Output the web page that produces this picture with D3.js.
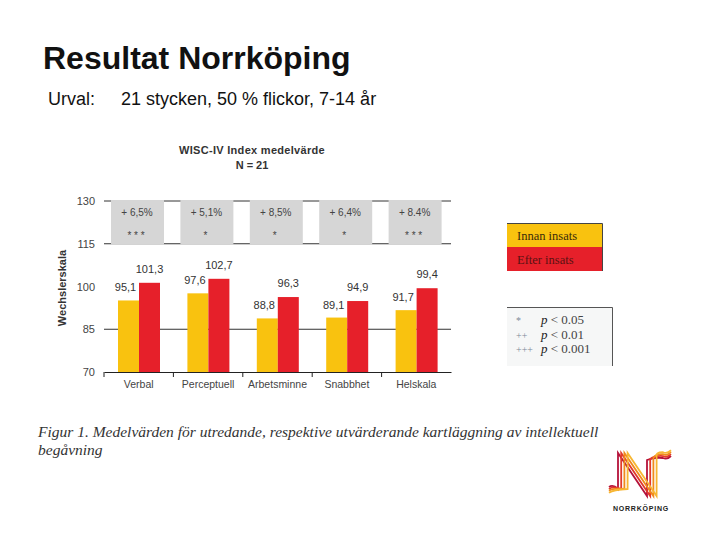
<!DOCTYPE html>
<html>
<head>
<meta charset="utf-8">
<script src="https://cdn.jsdelivr.net/npm/d3@7"></script>
<style>
  body { margin: 0; background: #fff; }
</style>
</head>
<body>
<div id="chart"></div>
<script>
// data
var categories = ['Verbal', 'Perceptuell', 'Arbetsminne', 'Snabbhet', 'Helskala'];
var innan = [95.1, 97.6, 88.8, 89.1, 91.7];
var efter = [101.3, 102.7, 96.3, 94.9, 99.4];
var change = ['+ 6,5%', '+ 5,1%', '+ 8,5%', '+ 6,4%', '+ 8.4%'];
var stars = ['* * *', '*', '*', '*', '* * *'];
var yTicks = [70, 85, 100, 115, 130];
var gridValues = [85, 115, 130];
var seriesNames = ['Innan insats', 'Efter insats'];
var pRows = [['*', '0.05'], ['++', '0.01'], ['+++', '0.001']];

var svgWidth = 720;
var svgHeight = 540;
var yellow = '#f9c20f';
var red = '#e6202a';
var sans = '"Liberation Sans", Arial, sans-serif';
var serif = '"Liberation Serif", "Times New Roman", serif';

var svg = d3.select('#chart').append('svg')
    .attr('width', svgWidth)
    .attr('height', svgHeight)
    .style('font-family', sans);

// slide heading
svg.append('text')
    .attr('x', 43).attr('y', 69)
    .attr('font-size', '32px').attr('font-weight', 'bold')
    .attr('fill', '#111')
    .text('Resultat Norrköping');

svg.append('text')
    .attr('x', 48).attr('y', 105)
    .attr('font-size', '18px').attr('fill', '#111')
    .text('Urval:');
svg.append('text')
    .attr('x', 121).attr('y', 105)
    .attr('font-size', '18px').attr('fill', '#111')
    .text('21 stycken, 50 % flickor, 7-14 år');

// chart title
svg.append('text')
    .attr('x', 252).attr('y', 154)
    .attr('text-anchor', 'middle')
    .attr('font-size', '11px').attr('font-weight', 'bold').attr('fill', '#333')
    .attr('letter-spacing', '0.3px')
    .text('WISC-IV Index medelvärde');
svg.append('text')
    .attr('x', 252).attr('y', 169)
    .attr('text-anchor', 'middle')
    .attr('font-size', '11px').attr('font-weight', 'bold').attr('fill', '#333')
    .text('N = 21');

// scales
var xScale = d3.scaleBand()
    .domain(categories)
    .range([104, 451]);

var xSub = d3.scaleBand()
    .domain([0, 1])
    .range([14, 56]);

var yScale = d3.scaleLinear()
    .domain([70, 130])
    .range([372, 201]);

var chartGroup = svg.append('g');

// grid lines
chartGroup.selectAll('.grid')
    .data(gridValues)
    .enter()
    .append('line')
    .attr('x1', 104).attr('x2', 451)
    .attr('y1', d => yScale(d)).attr('y2', d => yScale(d))
    .attr('stroke', '#333').attr('stroke-width', 1);

// grey boxes for the change rows (over the 130/115 lines)
chartGroup.selectAll('.box')
    .data(categories)
    .enter()
    .append('rect')
    .attr('x', d => xScale(d) + 7)
    .attr('y', yScale(130) - 1)
    .attr('width', 53)
    .attr('height', yScale(115) - yScale(130) + 2)
    .attr('fill', '#d6d6d6');

chartGroup.selectAll('.change')
    .data(categories)
    .enter()
    .append('text')
    .attr('x', d => xScale(d) + 33)
    .attr('y', 216)
    .attr('text-anchor', 'middle')
    .attr('font-size', '10px').attr('fill', '#444')
    .text((d, i) => change[i]);

chartGroup.selectAll('.stars')
    .data(categories)
    .enter()
    .append('text')
    .attr('x', d => xScale(d) + 32)
    .attr('y', 239)
    .attr('text-anchor', 'middle')
    .attr('font-size', '10px').attr('fill', '#444')
    .text((d, i) => stars[i]);

// bars
var series = [innan, efter];
var colors = [yellow, red];
series.forEach(function(values, s) {
    chartGroup.selectAll('.bar' + s)
        .data(categories)
        .enter()
        .append('rect')
        .attr('x', d => xScale(d) + xSub(s))
        .attr('y', (d, i) => yScale(values[i]))
        .attr('width', xSub.bandwidth())
        .attr('height', (d, i) => yScale(70) - yScale(values[i]))
        .attr('fill', colors[s]);

    chartGroup.selectAll('.val' + s)
        .data(categories)
        .enter()
        .append('text')
        .attr('x', d => xScale(d) + xSub(s) + xSub.bandwidth() / 2 + (s === 0 ? -3 : 0))
        .attr('y', (d, i) => yScale(values[i]) - (s === 0 ? 9 : 10))
        .attr('text-anchor', 'middle')
        .attr('font-size', '11px').attr('fill', '#333')
        .text((d, i) => values[i].toFixed(1).replace('.', ','));
});

// y axis labels
var leftAxis = d3.axisLeft(yScale).tickValues(yTicks).tickSize(0).tickPadding(0);
var yAxis = chartGroup.append('g')
    .attr('transform', 'translate(95, 0)')
    .call(leftAxis);
yAxis.select('.domain').remove();
yAxis.selectAll('text')
    .attr('font-family', sans)
    .attr('font-size', '11px').attr('fill', '#444');

// bottom axis
var bottomAxis = d3.axisBottom(xScale).tickSize(0).tickPadding(9);
var xAxis = chartGroup.append('g')
    .attr('transform', `translate(0, ${yScale(70)})`)
    .call(bottomAxis);
xAxis.select('.domain').attr('stroke', '#222');
xAxis.selectAll('text')
    .attr('font-family', sans)
    .attr('font-size', '10.5px').attr('fill', '#444');

chartGroup.selectAll('.btick')
    .data(categories)
    .enter()
    .append('line')
    .attr('x1', d => xScale(d)).attr('x2', d => xScale(d))
    .attr('y1', yScale(70)).attr('y2', yScale(70) + 5)
    .attr('stroke', '#222');

svg.append('text')
    .attr('transform', 'translate(66, 288) rotate(-90)')
    .attr('text-anchor', 'middle')
    .attr('font-size', '11px').attr('font-weight', 'bold').attr('fill', '#333')
    .text('Wechslerskala');

// legend
var legend = svg.append('g');
legend.selectAll('rect')
    .data(seriesNames)
    .enter()
    .append('rect')
    .attr('x', 507).attr('y', (d, i) => 223 + i * 24)
    .attr('width', 95).attr('height', 24)
    .attr('fill', (d, i) => colors[i]);
legend.append('path')
    .attr('d', 'M507,223.5 H602.5 V271')
    .attr('fill', 'none').attr('stroke', '#444');
legend.selectAll('text')
    .data(seriesNames)
    .enter()
    .append('text')
    .attr('x', 517).attr('y', (d, i) => 240 + i * 24)
    .style('font-family', serif)
    .attr('font-size', '12.5px')
    .attr('fill', (d, i) => i === 0 ? '#3a2a0a' : '#5a1212')
    .text(d => d);

var pLegend = svg.append('g');
pLegend.append('rect')
    .attr('x', 507).attr('y', 307)
    .attr('width', 106).attr('height', 59)
    .attr('fill', '#f6f7f7');
pLegend.append('path')
    .attr('d', 'M507,307.5 H612.5 V366')
    .attr('fill', 'none').attr('stroke', '#555');
pRows.forEach(function(r, i) {
    var t = pLegend.append('text')
        .attr('y', 324 + i * 14.5)
        .style('font-family', serif)
        .attr('font-size', '13px');
    t.append('tspan').attr('x', 516).attr('fill', '#7d8a99').attr('font-size', '10px').text(r[0]);
    t.append('tspan').attr('x', 541).attr('fill', '#222').attr('font-style', 'italic').text('p');
    t.append('tspan').attr('fill', '#444').text(' < ' + r[1]);
});

// caption
var caption = svg.append('text')
    .style('font-family', serif)
    .attr('font-style', 'italic')
    .attr('font-size', '15.5px').attr('fill', '#333');
caption.append('tspan').attr('x', 38).attr('y', 437)
    .text('Figur 1. Medelvärden för utredande, respektive utvärderande kartläggning av intellektuell');
caption.append('tspan').attr('x', 38).attr('y', 455)
    .text('begåvning');

// logo
var logo = svg.append('g');
var logoColors = ['#b5123a', '#e23a2a', '#f08a1c', '#f7b733'];
logoColors.forEach(function(c, i) {
    var o = i * 3.2;
    var p = d3.path();
    p.moveTo(609, 487 + o * 0.6);
    p.quadraticCurveTo(613, 484 + o * 0.6, 618 + o, 489);
    p.lineTo(618 + o, 453);
    p.lineTo(647 + o, 496);
    p.lineTo(647 + o, 460 - o * 0.3);
    p.quadraticCurveTo(655, 455 - o * 0.5 + 2, 663, 458 - o * 0.6);
    p.quadraticCurveTo(667, 460 - o * 0.6, 671, 456 - o * 0.6);
    logo.append('path')
        .attr('d', p.toString())
        .attr('fill', 'none')
        .attr('stroke', c)
        .attr('stroke-width', 1.8);
});
svg.append('text')
    .attr('x', 641).attr('y', 511)
    .attr('text-anchor', 'middle')
    .attr('font-size', '7px').attr('font-weight', 'bold')
    .attr('letter-spacing', '0.8px').attr('fill', '#222')
    .text('NORRKÖPING');
</script>
</body>
</html>
